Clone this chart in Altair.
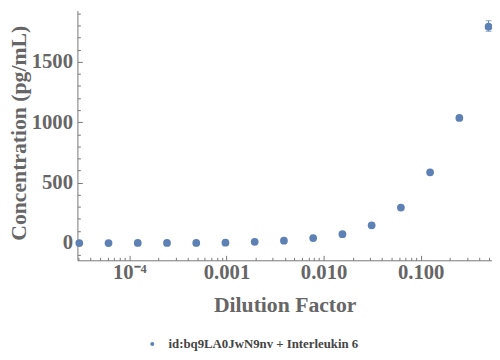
import altair as alt
import pandas as pd

# Data
dilution = [0.5, 0.25, 0.125, 0.0625, 0.03125, 0.015625, 0.0078125,
            0.00390625, 0.001953125, 0.0009765625, 0.00048828125,
            0.000244140625, 0.0001220703125, 0.00006103515625,
            0.000030517578125]
concentration = [1790, 1035, 585, 293, 147, 73, 41, 19, 10, 3, 1, 0.5, 0.3, 0.1, 0]
err_x = [0.5]
err_lo = [1752]
err_hi = [1840]
series_name = "id:bq9LA0JwN9nv + Interleukin 6"

x_major = [1e-4, 1e-3, 1e-2, 1e-1]
x_minor = [3e-5, 4e-5, 5e-5, 6e-5, 7e-5, 8e-5, 9e-5,
           2e-4, 3e-4, 4e-4, 5e-4, 6e-4, 7e-4, 8e-4, 9e-4,
           2e-3, 3e-3, 4e-3, 5e-3, 6e-3, 7e-3, 8e-3, 9e-3,
           2e-2, 3e-2, 4e-2, 5e-2, 6e-2, 7e-2, 8e-2, 9e-2,
           2e-1, 3e-1, 4e-1, 5e-1]
y_major = [0, 500, 1000, 1500]
y_minor = [-100, 100, 200, 300, 400, 600, 700, 800, 900, 1100, 1200,
           1300, 1400, 1600, 1700, 1800, 1900]

COLOR = "#5E81B5"
FONT = "Liberation Serif"
GRAY = "#666666"
AXC = "#777777"

df = pd.DataFrame({"x": dilution, "y": concentration, "series": series_name})
edf = pd.DataFrame({"x": err_x, "lo": err_lo, "hi": err_hi})

xscale = alt.Scale(type="log", domain=[2.92e-5, 0.542], nice=False)
yscale = alt.Scale(domain=[-143, 1923], nice=False, zero=False)

label_expr = "datum.value < 0.0005 ? '10\u207b\u2074' : format(datum.value, '.3f')"

main = alt.Chart(df).mark_circle(size=62, opacity=1).encode(
    x=alt.X("x:Q", scale=xscale, title="Dilution Factor",
            axis=alt.Axis(orient="bottom", values=x_major, labelExpr=label_expr,
                          ticks=False, tickSize=0, grid=False, domain=True,
                          domainColor=AXC, domainWidth=1,
                          labelFont=FONT, labelFontSize=21, labelFontWeight="bold",
                          labelColor=GRAY, labelBaseline="alphabetic", labelPadding=18.5,
                          labelFlush=False, labelOverlap=False,
                          titleFont=FONT, titleFontSize=22, titleFontWeight="bold",
                          titleColor=GRAY, titleBaseline="alphabetic", titleY=52)),
    y=alt.Y("y:Q", scale=yscale, title="Concentration (pg/mL)",
            axis=alt.Axis(orient="left", values=y_major, format="d", ticks=False, tickSize=0,
                          grid=False, domain=True, domainColor=AXC, domainWidth=1,
                          labelFont=FONT, labelFontSize=21, labelFontWeight="bold",
                          labelColor=GRAY, labelPadding=5, labelFlush=False,
                          labelOverlap=False,
                          titleFont=FONT, titleFontSize=22, titleFontWeight="bold",
                          titleColor=GRAY, titleBaseline="alphabetic", titleAngle=-90,
                          titleX=-53, titleY=124)),
    color=alt.Color("series:N", scale=alt.Scale(range=[COLOR]),
                    legend=alt.Legend(orient="none", legendX=69.5, legendY=332,
                                      title=None, symbolType="circle", symbolSize=16,
                                      symbolFillColor=COLOR, symbolStrokeWidth=0,
                                      labelFont=FONT, labelFontSize=13, labelLimit=400,
                                      labelFontWeight="bold", labelColor="#444444",
                                      labelOffset=10, padding=0)),
)

err = alt.Chart(edf).mark_errorbar(ticks=alt.MarkConfig(size=6), color=COLOR, thickness=1).encode(
    x=alt.X("x:Q", scale=xscale, axis=None),
    y=alt.Y("lo:Q", scale=yscale, axis=None),
    y2="hi:Q",
)

def tick_layer(xvals, yvals, size):
    return alt.Chart(df).mark_point(opacity=0).encode(
        x=alt.X("x:Q", scale=xscale, title=None,
                axis=alt.Axis(orient="bottom", values=xvals, ticks=True, tickSize=size,
                              tickColor=AXC, tickWidth=1, offset=-size, domain=False,
                              labels=False, grid=False)),
        y=alt.Y("y:Q", scale=yscale, title=None,
                axis=alt.Axis(orient="left", values=yvals, ticks=True, tickSize=size,
                              tickColor=AXC, tickWidth=1, offset=-size, domain=False,
                              labels=False, grid=False)),
    )

major_ticks = tick_layer(x_major, y_major, 5)
minor_ticks = tick_layer(x_minor, y_minor, 3)

chart = alt.layer(main, major_ticks, minor_ticks, err).resolve_axis(
    x="independent", y="independent"
).properties(
    width=421, height=253.5,
    autosize=alt.AutoSizeParams(type="none"),
    padding={"left": 70.5, "top": 0, "right": 0, "bottom": 96},
).configure_view(stroke=None)

chart.save("out.html", embed_options={"renderer": "svg", "actions": False})
